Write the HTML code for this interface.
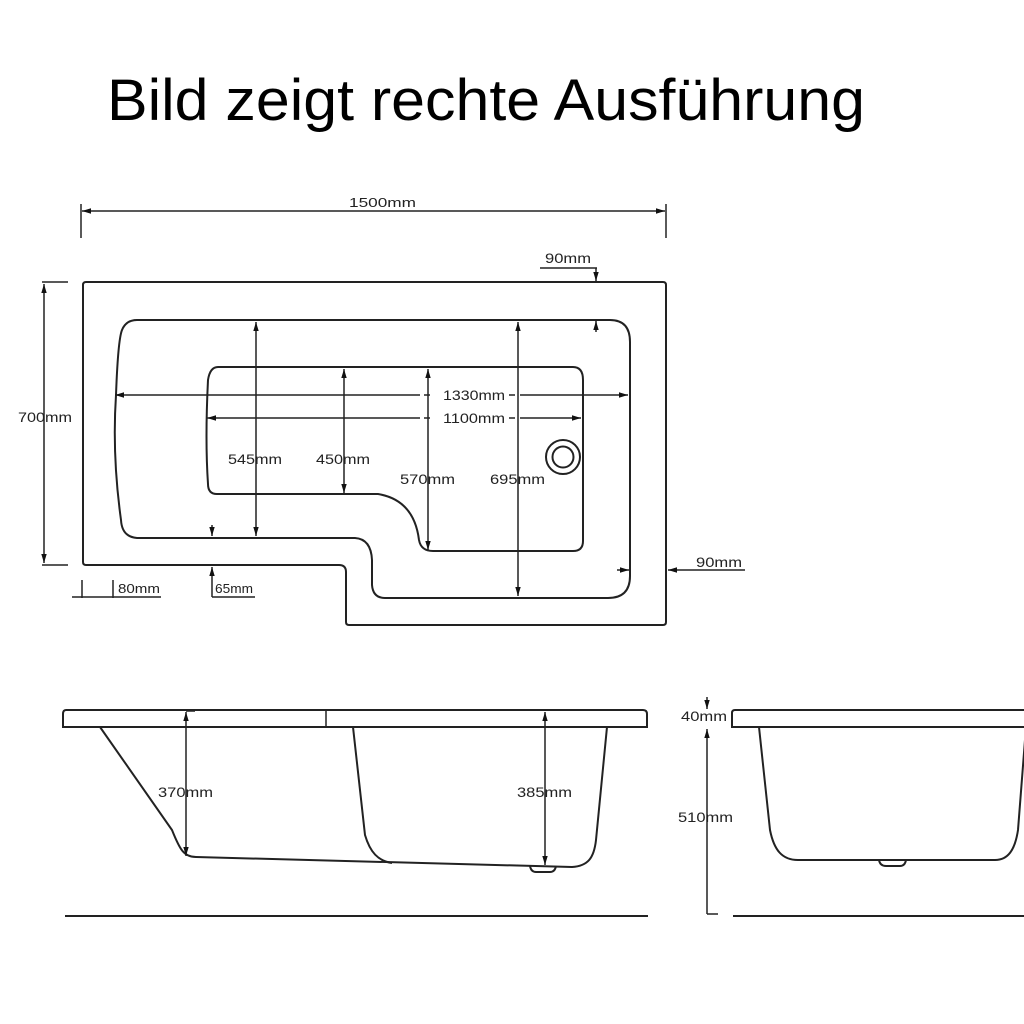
<!DOCTYPE html>
<html><head><meta charset="utf-8"><style>
html,body{margin:0;padding:0;background:#fff;width:1024px;height:1024px;overflow:hidden}
svg{display:block}
.t{font-family:"Liberation Sans",sans-serif;font-size:14px;fill:#222}
</style></head><body>
<svg width="1024" height="1024" viewBox="0 0 1024 1024" xmlns="http://www.w3.org/2000/svg">
<defs>
<marker id="a" viewBox="0 0 10 10" refX="10" refY="5" markerWidth="9" markerHeight="9" markerUnits="userSpaceOnUse" orient="auto-start-reverse"><path d="M0,2 L10,5 L0,8 z" fill="#111"/></marker>
</defs>
<text x="107" y="120" font-family="Liberation Sans, sans-serif" font-size="58" textLength="758" lengthAdjust="spacingAndGlyphs" fill="#000">Bild zeigt rechte Ausführung</text>

<g stroke="#222" stroke-width="2" fill="none">
<line x1="82" y1="211" x2="665" y2="211" marker-start="url(#a)" marker-end="url(#a)" stroke-width="1.5"/>
<line x1="81" y1="204" x2="81" y2="238" stroke-width="1.5"/>
<line x1="666" y1="204" x2="666" y2="238" stroke-width="1.5"/>
<path d="M86,282 H663 Q666,282 666,285 V622 Q666,625 663,625 H349 Q346,625 346,622 V572 Q346,565 339,565 H86 Q83,565 83,562 V285 Q83,282 86,282 Z"/>
<path d="M137,320 H610 Q630,320 630,342 V576 Q630,598 608,598 H385 Q373,598 372,585 V560 Q371,539 355,538 H137 Q122,537 121,520 Q112,455 116,395 Q118,340 122,330 Q126,320 137,320 Z"/>
<path d="M218,367 H573 Q583,367 583,380 V541 Q583,551 573,551 H433 Q421,551 419,540 Q414,500 378,494 H217 Q208,494 208,484 Q205,440 208,380 Q210,367 218,367 Z"/>
<circle cx="563" cy="457" r="17"/>
<circle cx="563" cy="457" r="10.5"/>
<line x1="44" y1="284" x2="44" y2="563" marker-start="url(#a)" marker-end="url(#a)" stroke-width="1.5"/>
<line x1="42" y1="282" x2="68" y2="282" stroke-width="1.5"/>
<line x1="42" y1="565" x2="68" y2="565" stroke-width="1.5"/>
<line x1="256" y1="322" x2="256" y2="536" marker-start="url(#a)" marker-end="url(#a)" stroke-width="1.5"/>
<line x1="344" y1="369" x2="344" y2="493" marker-start="url(#a)" marker-end="url(#a)" stroke-width="1.5"/>
<line x1="428" y1="369" x2="428" y2="550" marker-start="url(#a)" marker-end="url(#a)" stroke-width="1.5"/>
<line x1="518" y1="322" x2="518" y2="596" marker-start="url(#a)" marker-end="url(#a)" stroke-width="1.5"/>
<line x1="115" y1="395" x2="420" y2="395" marker-start="url(#a)" stroke-width="1.5"/>
<line x1="424" y1="395" x2="430" y2="395" stroke-width="1.5"/>
<line x1="509" y1="395" x2="515" y2="395" stroke-width="1.5"/>
<line x1="520" y1="395" x2="628" y2="395" marker-end="url(#a)" stroke-width="1.5"/>
<line x1="207" y1="418" x2="420" y2="418" marker-start="url(#a)" stroke-width="1.5"/>
<line x1="424" y1="418" x2="430" y2="418" stroke-width="1.5"/>
<line x1="509" y1="418" x2="515" y2="418" stroke-width="1.5"/>
<line x1="520" y1="418" x2="581" y2="418" marker-end="url(#a)" stroke-width="1.5"/>
<line x1="540" y1="268" x2="597" y2="268" stroke-width="1.5"/>
<line x1="596" y1="268" x2="596" y2="281" marker-end="url(#a)" stroke-width="1.5"/>
<line x1="596" y1="332" x2="596" y2="321" marker-end="url(#a)" stroke-width="1.5"/>
<line x1="745" y1="570" x2="668" y2="570" marker-end="url(#a)" stroke-width="1.5"/>
<line x1="617" y1="570" x2="629" y2="570" marker-end="url(#a)" stroke-width="1.5"/>
<line x1="72" y1="597" x2="161" y2="597" stroke-width="1.5"/>
<line x1="82" y1="580" x2="82" y2="598" stroke-width="1.5"/>
<line x1="113" y1="580" x2="113" y2="598" stroke-width="1.5"/>
<line x1="212" y1="597" x2="255" y2="597" stroke-width="1.5"/>
<line x1="212" y1="597" x2="212" y2="567" marker-end="url(#a)" stroke-width="1.5"/>
<line x1="212" y1="525" x2="212" y2="536" marker-end="url(#a)" stroke-width="1.5"/>

<path d="M66,710 H643 Q647,710 647,714 V727 H63 V714 Q63,710 66,710 Z"/>
<line x1="326" y1="710" x2="326" y2="727" stroke-width="1.5"/>
<path d="M100,727 L172,830 C180,850 184,857 196,857 L572,867 C588,866 594,858 596,840 L607,727"/>
<path d="M353,727 L365,835 C370,852 378,861 392,863"/>
<path d="M530,866 Q531,872 536,872 H550 Q555,872 556,866"/>
<line x1="186" y1="712" x2="186" y2="856" marker-start="url(#a)" marker-end="url(#a)" stroke-width="1.5"/>
<line x1="186" y1="711" x2="195" y2="711" stroke-width="1.5"/>
<line x1="545" y1="712" x2="545" y2="865" marker-start="url(#a)" marker-end="url(#a)" stroke-width="1.5"/>
<line x1="65" y1="916" x2="648" y2="916"/>

<path d="M735,710 H1030 V727 H732 V713 Q732,710 735,710 Z"/>
<path d="M759,727 L770,830 C774,850 782,860 798,860 H995 C1008,860 1015,850 1018,830 L1026,727"/>
<path d="M879,860 Q880,866 886,866 H900 Q905,866 906,860"/>
<line x1="707" y1="697" x2="707" y2="709" marker-end="url(#a)" stroke-width="1.5"/>
<line x1="707" y1="914" x2="707" y2="729" marker-end="url(#a)" stroke-width="1.5"/>
<line x1="707" y1="914" x2="718" y2="914" stroke-width="1.5"/>
<line x1="733" y1="916" x2="1024" y2="916"/>
</g>

<g class="t" lengthAdjust="spacingAndGlyphs">
<text x="349" y="207" font-size="13" textLength="67" lengthAdjust="spacingAndGlyphs">1500mm</text>
<text x="545" y="263" textLength="46" lengthAdjust="spacingAndGlyphs">90mm</text>
<text x="18" y="422" textLength="54" lengthAdjust="spacingAndGlyphs">700mm</text>
<text x="443" y="400" textLength="62" lengthAdjust="spacingAndGlyphs">1330mm</text>
<text x="443" y="423" textLength="62" lengthAdjust="spacingAndGlyphs">1100mm</text>
<text x="228" y="464" textLength="54" lengthAdjust="spacingAndGlyphs">545mm</text>
<text x="316" y="464" textLength="54" lengthAdjust="spacingAndGlyphs">450mm</text>
<text x="400" y="484" textLength="55" lengthAdjust="spacingAndGlyphs">570mm</text>
<text x="490" y="484" textLength="55" lengthAdjust="spacingAndGlyphs">695mm</text>
<text x="696" y="567" textLength="46" lengthAdjust="spacingAndGlyphs">90mm</text>
<text x="118" y="593" font-size="13" textLength="42" lengthAdjust="spacingAndGlyphs">80mm</text>
<text x="215" y="593" font-size="13" textLength="38" lengthAdjust="spacingAndGlyphs">65mm</text>
<text x="158" y="797" textLength="55" lengthAdjust="spacingAndGlyphs">370mm</text>
<text x="517" y="797" textLength="55" lengthAdjust="spacingAndGlyphs">385mm</text>
<text x="681" y="721" textLength="46" lengthAdjust="spacingAndGlyphs">40mm</text>
<text x="678" y="822" textLength="55" lengthAdjust="spacingAndGlyphs">510mm</text>
</g>
</svg>
</body></html>
